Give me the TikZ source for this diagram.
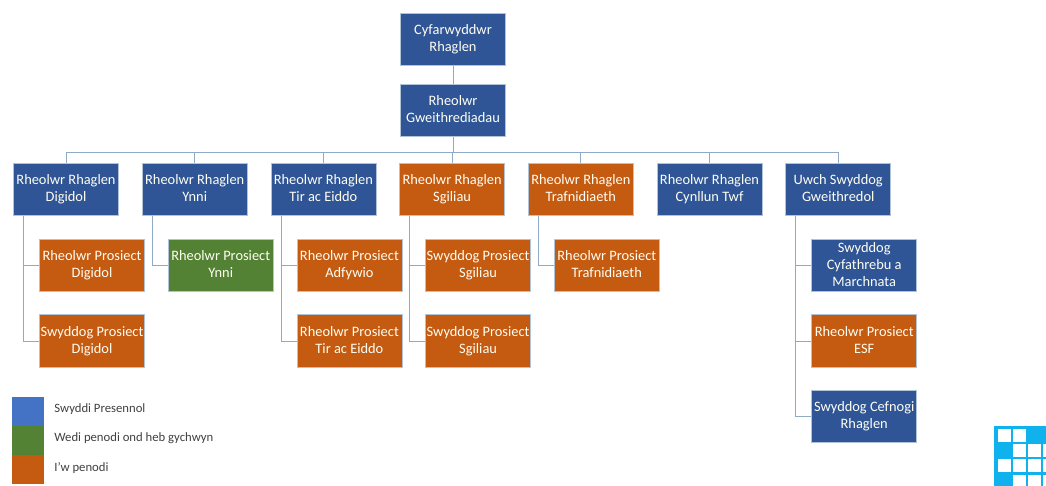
\documentclass[tikz,border=0pt]{standalone}
\usepackage{fontspec}
\setmainfont{Carlito}
\usetikzlibrary{calc}
\usetikzlibrary{positioning}
\definecolor{postblue}{HTML}{2F5597}
\definecolor{postorange}{HTML}{C55A11}
\definecolor{postgreen}{HTML}{548235}
\definecolor{keyblue}{HTML}{4472C4}
\definecolor{linkblue}{HTML}{8FAAC6}
\definecolor{logoblue}{HTML}{0FB2EC}
\tikzstyle{Apost}=[draw=linkblue!70!white,line width=0.6pt,minimum width=105pt,minimum height=52.5pt,inner sep=0,
                align=center,font=\fontsize{14.4}{16.8}\selectfont,text=white!95!yellow,
                execute at end node={\vphantom{gy}}]
\tikzstyle{Ablue}=[Apost,fill=postblue]
\tikzstyle{Aorange}=[Apost,fill=postorange]
\tikzstyle{Agreen}=[Apost,fill=postgreen]
\tikzstyle{Akey}=[minimum width=32pt,minimum height=29pt,inner sep=0]
\tikzstyle{Akeytext}=[font=\fontsize{12.7}{15}\selectfont,text=black!75,inner sep=0,yshift=2pt]
\tikzstyle{Alink}=[draw=linkblue,line width=1pt]
\newcommand{\lead}[4]{\node[#1,right of=#2,node distance=128.7pt] (#3) {#4};\draw[Alink] (bus) -| (#3.north);}
\newcommand{\firstjob}[4]{\node[#1,below of=#2,xshift=26pt,node distance=76pt] (#3) {#4};\draw[Alink] ([xshift=10.5pt]#2.south west) |- (#3.west);}
\newcommand{\nextjob}[5]{\node[#1,below of=#3,node distance=75.5pt] (#4) {#5};\draw[Alink] ([xshift=10.5pt]#2.south west) |- (#4.west);}
\begin{document}
\begin{tikzpicture}[x=1pt,y=1pt]
	\useasboundingbox (0,0) rectangle (1046,-486);
	\clip (0,0) rectangle (1046,-486);
	\fill[white] (0,0) rectangle (1046,-486);
	% top of the tree
	\node[Ablue] (director) at (453,-39.5) {Cyfarwyddwr\\Rhaglen};
	\node[Ablue,below of=director,node distance=71pt] (operations) {Rheolwr\\Gweithrediadau};
	\draw[Alink] (director) -- (operations);
	\coordinate[below of=operations,node distance=42.5pt] (bus);
	% programme managers
	\node[Ablue] (digital) at (66,-189.5) {Rheolwr Rhaglen\\Digidol};
	\draw[Alink] (operations.south) -- (bus) -| (digital.north);
	\lead{Ablue}{digital}{energy}{Rheolwr Rhaglen\\Ynni}
	\lead{Ablue}{energy}{land}{Rheolwr Rhaglen\\Tir ac Eiddo}
	\lead{Aorange}{land}{skills}{Rheolwr Rhaglen\\Sgiliau}
	\lead{Aorange}{skills}{transport}{Rheolwr Rhaglen\\Trafnidiaeth}
	\lead{Ablue}{transport}{growth}{Rheolwr Rhaglen\\Cynllun Twf}
	\lead{Ablue}{growth}{senior}{Uwch Swyddog\\Gweithredol}
	% project posts
	\firstjob{Aorange}{digital}{digitalA}{Rheolwr Prosiect\\Digidol}
	\nextjob{Aorange}{digital}{digitalA}{digitalB}{Swyddog Prosiect\\Digidol}
	\firstjob{Agreen}{energy}{energyA}{Rheolwr Prosiect\\Ynni}
	\firstjob{Aorange}{land}{landA}{Rheolwr Prosiect\\Adfywio}
	\nextjob{Aorange}{land}{landA}{landB}{Rheolwr Prosiect\\Tir ac Eiddo}
	\firstjob{Aorange}{skills}{skillsA}{Swyddog Prosiect\\Sgiliau}
	\nextjob{Aorange}{skills}{skillsA}{skillsB}{Swyddog Prosiect\\Sgiliau}
	\firstjob{Aorange}{transport}{transportA}{Rheolwr Prosiect\\Trafnidiaeth}
	\firstjob{Ablue}{senior}{seniorA}{Swyddog\\Cyfathrebu a\\Marchnata}
	\nextjob{Aorange}{senior}{seniorA}{seniorB}{Rheolwr Prosiect\\ESF}
	\nextjob{Ablue}{senior}{seniorB}{seniorC}{Swyddog Cefnogi\\Rhaglen}
	% key
	\node[Akey,fill=keyblue] (keyA) at (28,-411) {};
	\node[Akey,fill=postgreen,below=0pt of keyA] (keyB) {};
	\node[Akey,fill=postorange,below=0pt of keyB] (keyC) {};
	\node[Akeytext,right=10pt of keyA] (keyAt) {Swyddi Presennol};
	\node[Akeytext,right=10pt of keyB] (keyBt) {Wedi penodi ond heb gychwyn};
	\node[Akeytext,right=10pt of keyC] (keyCt) {I’w penodi};
	% logo
	\fill[logoblue] (994,-426) rectangle (1046,-486);
	\foreach \col/\row in {0/0,1/0,1/1,2/1,3/1,0/2,1/2,2/2,3/2,1/3,2/3,3/3}
		\fill[white] (998+15*\col,-429-15.2*\row) rectangle ++(13,-13);
\end{tikzpicture}
\end{document}
